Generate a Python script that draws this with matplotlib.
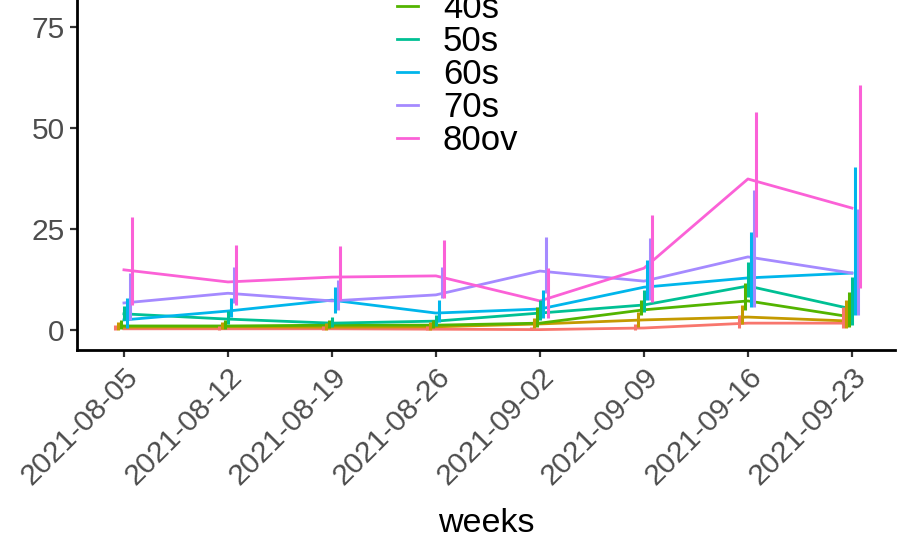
import matplotlib
matplotlib.use("Agg")
import matplotlib.pyplot as plt
import matplotlib.dates as mdates
from matplotlib.lines import Line2D
from matplotlib.transforms import ScaledTranslation
import pandas as pd

plt.rcParams['font.family'] = ['Liberation Sans', 'DejaVu Sans']

# weekly values per age group (estimate, lower / upper interval)
weeks = ["2021-08-05", "2021-08-12", "2021-08-19", "2021-08-26",
         "2021-09-02", "2021-09-09", "2021-09-16", "2021-09-23"]
groups = ["20s", "30s", "40s", "50s", "60s", "70s", "80ov"]
colors = ["#F8766D", "#C49A00", "#53B400", "#00C094", "#00B6EB", "#A58AFF", "#FB61D7"]

val_20s = [0.3, 0.3, 0.3, 0.2, 0.1, 0.5, 1.7, 1.7]
low_20s = [0.0, 0.0, 0.0, 0.0, 0.0, 0.1, 0.5, 0.5]
upp_20s = [1.2, 1.0, 1.0, 0.9, 0.7, 1.5, 3.7, 5.7]

val_30s = [0.7, 0.8, 0.7, 0.8, 1.5, 2.5, 3.2, 2.2]
low_30s = [0.1, 0.2, 0.1, 0.1, 0.6, 0.8, 1.5, 0.5]
upp_30s = [2.0, 2.0, 1.8, 2.0, 3.0, 4.5, 6.2, 7.4]

val_40s = [1.0, 1.0, 1.2, 1.2, 1.7, 5.0, 7.2, 3.2]
low_40s = [0.2, 0.3, 0.4, 0.4, 0.8, 3.7, 5.0, 0.7]
upp_40s = [2.5, 2.4, 2.6, 2.6, 5.7, 7.4, 11.6, 9.4]

val_50s = [4.0, 2.7, 1.7, 2.2, 4.2, 6.2, 10.9, 5.2]
low_50s = [2.5, 1.4, 0.7, 1.0, 2.5, 4.5, 8.2, 1.2]
upp_50s = [6.0, 4.8, 3.3, 3.8, 7.4, 9.9, 16.8, 13.1]

val_60s = [2.5, 4.7, 7.4, 4.2, 5.2, 10.6, 12.9, 14.1]
low_60s = [0.5, 3.2, 4.2, 2.0, 3.0, 7.4, 5.7, 3.7]
upp_60s = [8.0, 8.0, 10.6, 7.4, 9.9, 17.3, 24.3, 40.3]

val_70s = [6.7, 9.1, 7.2, 8.7, 14.6, 12.1, 18.1, 14.1]
low_70s = [2.5, 6.6, 5.0, 7.9, 9.2, 7.4, 5.7, 3.7]
upp_70s = [14.1, 15.6, 12.4, 15.6, 23.0, 22.7, 34.6, 30.0]

val_80ov = [14.9, 11.9, 13.1, 13.4, 7.2, 15.3, 37.4, 30.2]
low_80ov = [6.2, 6.2, 7.4, 7.9, 3.0, 7.0, 23.0, 10.4]
upp_80ov = [28.0, 21.0, 20.8, 22.3, 15.3, 28.5, 54.0, 60.6]

vals = [val_20s, val_30s, val_40s, val_50s, val_60s, val_70s, val_80ov]
lows = [low_20s, low_30s, low_40s, low_50s, low_60s, low_70s, low_80ov]
upps = [upp_20s, upp_30s, upp_40s, upp_50s, upp_60s, upp_70s, upp_80ov]

dates = pd.to_datetime(weeks)
xnum = mdates.date2num(dates)

fig = plt.figure(figsize=(9.04, 5.4), dpi=100)
# plot is cropped at the top, like the original export
ax = fig.add_axes([77 / 904, 190 / 540, 818 / 904, 440 / 540])

for i, g in enumerate(groups):
    ax.plot(xnum, vals[i], color=colors[i], lw=2.0, solid_joinstyle='round', zorder=2)

# error bars dodged sideways by group
for i, g in enumerate(groups):
    off = 0.19 * (i - 3)
    ax.vlines(xnum + off, lows[i], upps[i], color=colors[i], lw=2.2, zorder=3)

ax.set_xlim(xnum[0] - 3.16, xnum[-1] + 2.9)
ax.set_ylim(-4.95, 104)
ax.set_yticks([0, 25, 50, 75, 100])
ax.set_xticks(xnum)
ax.set_xticklabels(weeks, rotation=45, ha='right', va='top', rotation_mode='anchor')
shift = ScaledTranslation(-5 / 100, -4 / 100, fig.dpi_scale_trans)
for lab in ax.get_xticklabels():
    lab.set_transform(lab.get_transform() + shift)

for s in ['top', 'right']:
    ax.spines[s].set_visible(False)
for s in ['left', 'bottom']:
    ax.spines[s].set_linewidth(2.0)
    ax.spines[s].set_color('black')

ax.tick_params(axis='both', length=5, width=1.6, color='#333333',
               labelsize=21.5, labelcolor='#4D4D4D', pad=4)

ax.set_xlabel('weeks', fontsize=24.5, color='black')
ax.xaxis.set_label_coords(0.5, -0.36)

handles = [Line2D([], [], color=c, lw=2.0) for c in colors]
fig.legend(handles, groups, loc='lower left', bbox_to_anchor=(397 / 904, 383 / 540),
           frameon=False, fontsize=25, borderpad=0, borderaxespad=0,
           labelspacing=0.0, handlelength=0.6, handletextpad=0.72)

fig.savefig('out.png', dpi=100)
